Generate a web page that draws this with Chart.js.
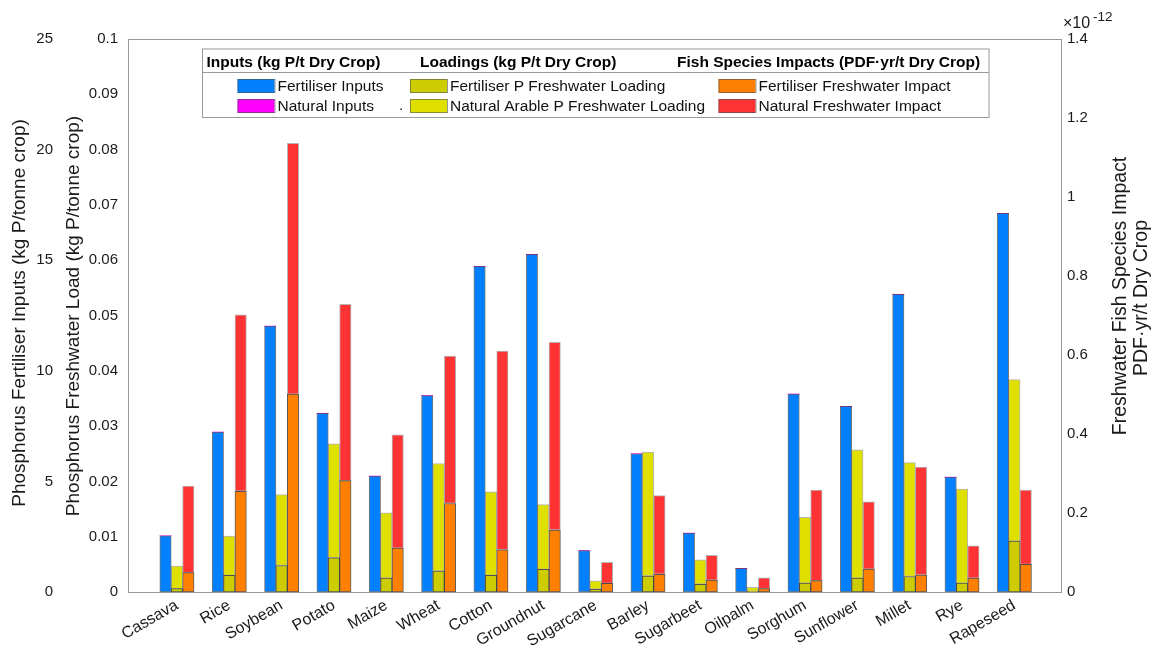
<!DOCTYPE html>
<html><head><meta charset="utf-8">
<script src="https://cdn.jsdelivr.net/npm/chart.js@4.4.1/dist/chart.umd.min.js"></script>
<style>html,body{margin:0;padding:0;background:#fff;}canvas{display:block;}</style>
</head><body>
<canvas id="c" width="1158" height="658"></canvas>
<script>
const categories = ['Cassava','Rice','Soybean','Potato','Maize','Wheat','Cotton','Groundnut','Sugarcane','Barley','Sugarbeet','Oilpalm','Sorghum','Sunflower','Millet','Rye','Rapeseed'];
// kg P / t dry crop
const fertiliserInputs = [2.54, 7.23, 12.02, 8.08, 5.24, 8.88, 14.72, 15.26, 1.87, 6.25, 2.66, 1.07, 8.95, 8.39, 13.46, 5.19, 17.12];
const naturalInputs    = [0, 0, 0, 0, 0, 0, 0, 0, 0, 0, 0, 0, 0, 0, 0, 0, 0];
// kg P / t dry crop
const fertiliserLoad   = [0.0006, 0.0030, 0.0048, 0.0062, 0.0025, 0.0038, 0.0030, 0.0041, 0.0005, 0.0029, 0.0014, 0.0001, 0.0016, 0.0025, 0.0028, 0.0016, 0.0092];
const naturalLoad      = [0.0041, 0.0071, 0.0128, 0.0206, 0.0118, 0.0194, 0.0151, 0.0117, 0.0015, 0.0224, 0.0044, 0.00075, 0.0119, 0.0232, 0.0206, 0.0170, 0.0292];
// PDF.yr / t dry crop (x 1e-12)
const fertiliserImpact = [0.049, 0.255, 0.501, 0.282, 0.111, 0.224, 0.107, 0.157, 0.022, 0.045, 0.030, 0.0085, 0.029, 0.058, 0.043, 0.035, 0.070];
const naturalImpact    = [0.219, 0.447, 0.635, 0.446, 0.287, 0.373, 0.503, 0.475, 0.053, 0.199, 0.063, 0.0275, 0.229, 0.170, 0.273, 0.082, 0.188];

const inputTicks = [0, 5, 10, 15, 20, 25];
const loadTicks = [0, 0.01, 0.02, 0.03, 0.04, 0.05, 0.06, 0.07, 0.08, 0.09, 0.1];
const impactTicks = [0, 0.2, 0.4, 0.6, 0.8, 1, 1.2, 1.4];

const FONT = "'Liberation Sans', Arial, sans-serif";
const pts = arr => arr.map((v, i) => ({x: i + 1, y: v}));

const COL = {
  blue: '#0080FF', magenta: '#FF00FF', olive: '#CCCC00', yellow: '#E0E000', orange: '#FF8000', red: '#FF3333'
};

function ds(label, data, color, stack, axis, border) {
  return {
    label, data: pts(data), backgroundColor: color, stack, yAxisID: axis,
    borderColor: border, borderWidth: 1, borderSkipped: false, barThickness: 11.4
  };
}

const legendPlugin = {
  id: 'extras',
  afterDraw(chart) {
    const ctx = chart.ctx;
    const a = chart.chartArea;
    ctx.save();
    // axes box
    ctx.strokeStyle = '#9a9a9a';
    ctx.lineWidth = 1;
    ctx.strokeRect(Math.round(a.left) + 0.5, Math.round(a.top) + 0.5, Math.round(a.right - a.left) - 1, Math.round(a.bottom - a.top));

    // axis titles
    ctx.fillStyle = '#1a1a1a';
    ctx.font = '19px ' + FONT;
    ctx.textAlign = 'center';
    ctx.textBaseline = 'middle';
    const rot = (txt, x, y) => { ctx.save(); ctx.translate(x, y); ctx.rotate(-Math.PI / 2); ctx.fillText(txt, 0, 0); ctx.restore(); };
    rot('Phosphorus Fertiliser Inputs (kg P/tonne crop)', 20, 313);
    rot('Phosphorus Freshwater Load (kg P/tonne crop)', 74, 316);
    ctx.font = '19.5px ' + FONT;
    rot('Freshwater Fish Species Impact', 1121, 296);
    rot('PDF\u00B7yr/t Dry Crop', 1142, 298);

    // exponent
    ctx.textAlign = 'left';
    ctx.font = '16px ' + FONT;
    ctx.fillText('\u00D710', 1063, 24);
    ctx.font = '13.5px ' + FONT;
    ctx.fillText('-12', 1093, 17);

    // legend
    const L = 202.5, R = 989, T = 49, B = 117.5;
    ctx.fillStyle = '#fff';
    ctx.fillRect(L, T, R - L, B - T);
    ctx.strokeStyle = '#9a9a9a';
    ctx.strokeRect(L, T, R - L, B - T);
    ctx.beginPath(); ctx.moveTo(L, 72.5); ctx.lineTo(R, 72.5); ctx.stroke();
    ctx.fillStyle = '#000';
    ctx.font = 'bold 15.5px ' + FONT;
    ctx.textBaseline = 'middle';
    ctx.fillText('Inputs (kg P/t Dry Crop)', 206.5, 62.5);
    ctx.fillText('Loadings (kg P/t Dry Crop)', 420, 62.5);
    ctx.fillText('Fish Species Impacts (PDF\u00B7yr/t Dry Crop)', 677, 62.5);
    const items = [
      [237.5, 86, COL.blue, 'Fertiliser Inputs'],
      [237.5, 106, COL.magenta, 'Natural Inputs'],
      [410, 86, COL.olive, 'Fertiliser P Freshwater Loading'],
      [410, 106, COL.yellow, 'Natural Arable P Freshwater Loading'],
      [718.5, 86, COL.orange, 'Fertiliser Freshwater Impact'],
      [718.5, 106, COL.red, 'Natural Freshwater Impact']
    ];
    ctx.font = '15.5px ' + FONT;
    items.forEach(([x, y, c, t]) => {
      ctx.fillStyle = c;
      ctx.fillRect(x, y - 7, 37, 14);
      ctx.strokeStyle = 'rgba(80,80,80,0.6)';
      ctx.strokeRect(x + 0.5, y - 6.5, 37, 13);
      ctx.fillStyle = '#111';
      ctx.fillText(t, x + 40, y + 0.5);
    });
    ctx.fillText('.', 399, 106);
    ctx.restore();
  }
};

const tickFont = {family: FONT, size: 15};
const fmt = d => v => String(Number(v.toFixed(d)));

new Chart(document.getElementById('c'), {
  type: 'bar',
  data: {
    datasets: [
      ds('Fertiliser Inputs', fertiliserInputs, COL.blue, 'inputs', 'yIn', 'rgba(30,30,30,0.6)'),
      Object.assign(ds('Natural Inputs', naturalInputs, COL.magenta, 'inputs', 'yIn', 'rgba(0,0,0,0)'), {borderWidth: 0}),
      ds('Fertiliser P Freshwater Loading', fertiliserLoad, COL.olive, 'load', 'yLoad', 'rgba(20,20,20,0.7)'),
      ds('Natural Arable P Freshwater Loading', naturalLoad, COL.yellow, 'load', 'yLoad', 'rgba(110,110,110,0.5)'),
      ds('Fertiliser Freshwater Impact', fertiliserImpact, COL.orange, 'impact', 'yImp', 'rgba(20,20,20,0.7)'),
      ds('Natural Freshwater Impact', naturalImpact, COL.red, 'impact', 'yImp', 'rgba(110,110,110,0.5)')
    ]
  },
  options: {
    responsive: false,
    animation: false,
    devicePixelRatio: 1,
    layout: {padding: {top: 39, left: 0, right: 0, bottom: 0}},
    plugins: {legend: {display: false}, tooltip: {enabled: false}},
    scales: {
      x: {
        type: 'linear', position: 'bottom', min: 0.065, max: 17.91, offset: false,
        grid: {display: false, drawTicks: false, offset: false}, border: {display: false},
        afterBuildTicks: s => { s.ticks = categories.map((c, i) => ({value: i + 1})); },
        afterFit: s => { s.height = 66; },
        ticks: {
          autoSkip: false, minRotation: 30, maxRotation: 30, padding: 4,
          font: {family: FONT, size: 16}, color: '#1a1a1a',
          callback: v => categories[v - 1] || ''
        }
      },
      yLoad: {
        type: 'linear', position: 'left', weight: 0, min: 0, max: 0.1, stacked: true,
        grid: {display: false, drawTicks: false}, border: {display: false},
        afterBuildTicks: s => { s.ticks = loadTicks.map(v => ({value: v})); },
        afterFit: s => { s.width = 70; },
        ticks: {padding: 10, font: tickFont, color: '#1a1a1a', callback: fmt(2)}
      },
      yIn: {
        type: 'linear', position: 'left', weight: 1, min: 0, max: 25, stacked: true,
        grid: {display: false, drawTicks: false}, border: {display: false},
        afterBuildTicks: s => { s.ticks = inputTicks.map(v => ({value: v})); },
        afterFit: s => { s.width = 58; },
        ticks: {padding: 5, font: tickFont, color: '#1a1a1a', callback: fmt(0)}
      },
      yImp: {
        type: 'linear', position: 'right', min: 0, max: 1.4, stacked: true,
        grid: {display: false, drawTicks: false}, border: {display: false},
        afterBuildTicks: s => { s.ticks = impactTicks.map(v => ({value: v})); },
        afterFit: s => { s.width = 96; },
        ticks: {padding: 5, font: tickFont, color: '#1a1a1a', callback: fmt(1)}
      }
    }
  },
  plugins: [legendPlugin]
});
</script>
</body></html>
